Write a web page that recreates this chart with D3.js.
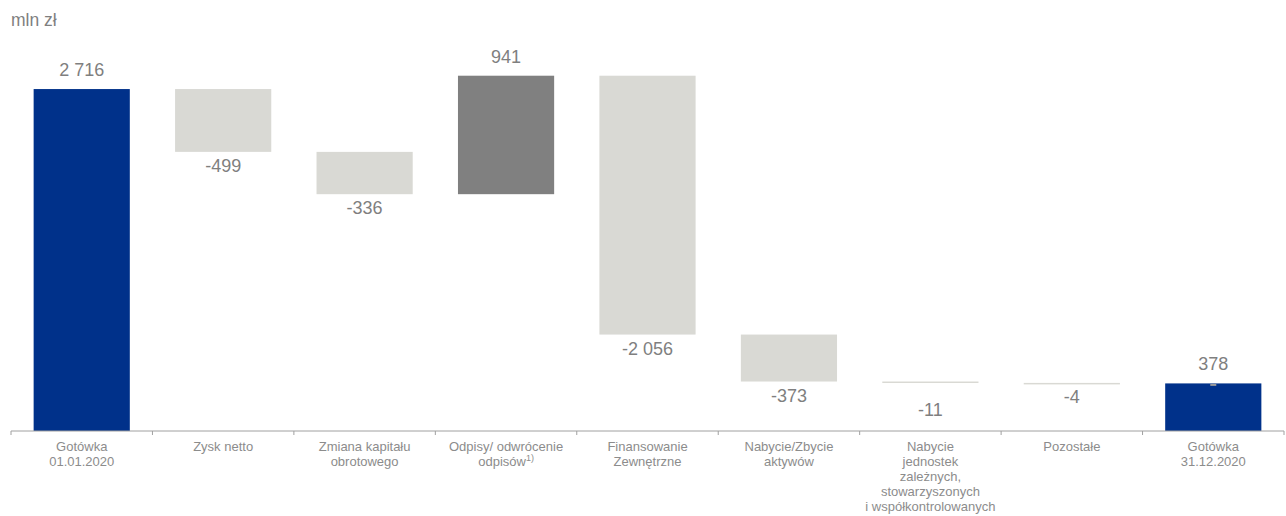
<!DOCTYPE html>
<html>
<head>
<meta charset="utf-8">
<script src="https://cdn.jsdelivr.net/npm/d3@7/dist/d3.min.js"></script>
<style>
  html, body { margin: 0; padding: 0; background: #fff; }
  svg { display: block; font-family: "Liberation Sans", Arial, sans-serif; }
</style>
</head>
<body>
<svg id="chart" width="1286" height="516"></svg>
<script>
// ---- data ----
const categories = [
  ["Gotówka", "01.01.2020"],
  ["Zysk netto"],
  ["Zmiana kapitału", "obrotowego"],
  ["Odpisy/ odwrócenie", "odpisów"],
  ["Finansowanie", "Zewnętrzne"],
  ["Nabycie/Zbycie", "aktywów"],
  ["Nabycie", "jednostek", "zależnych,", "stowarzyszonych", "i współkontrolowanych"],
  ["Pozostałe"],
  ["Gotówka", "31.12.2020"]
];
const values = [2716, -499, -336, 941, -2056, -373, -11, -4, 378];
const kinds = ["total", "delta", "delta", "delta", "delta", "delta", "delta", "delta", "total"];
const valueLabels = ["2 716", "-499", "-336", "941", "-2 056", "-373", "-11", "-4", "378"];
const unitLabel = "mln zł";

// ---- layout ----
const svg = d3.select("#chart");
const axisY = 431;
const x = d3.scaleBand()
  .domain(d3.range(categories.length))
  .range([11, 1284])
  .paddingInner(0.32)
  .paddingOuter(0.16);
const y = d3.scaleLinear().domain([0, 3000]).range([axisY, axisY - 377.7]);

// compute waterfall
let running = 0;
const bars = values.map((v, i) => {
  let y0, y1;
  if (kinds[i] === "total") { y0 = 0; y1 = v; running = v; }
  else { y0 = running; y1 = running + v; running = y1; }
  return { i, v, y0, y1, kind: kinds[i] };
});

const colorFor = b => b.kind === "total" ? "#00318A" : (b.v > 0 ? "#808080" : "#D9D9D4");

svg.append("text")
  .attr("x", 11).attr("y", 26)
  .attr("font-size", 17.5).attr("fill", "#7f7f7f")
  .text(unitLabel);

svg.selectAll("rect.bar").data(bars).enter().append("rect")
  .attr("class", "bar")
  .attr("x", d => x(d.i))
  .attr("width", x.bandwidth())
  .attr("y", d => y(Math.max(d.y0, d.y1)))
  .attr("height", d => Math.max(1.5, Math.abs(y(d.y0) - y(d.y1))))
  .attr("fill", colorFor);

// small grey mark at top of the final bar
const last = bars[bars.length - 1];
svg.append("rect")
  .attr("x", x(last.i) + x.bandwidth() / 2 - 3)
  .attr("y", y(last.y1) + 0.5)
  .attr("width", 6).attr("height", 2)
  .attr("fill", "#9a9a9a");

// value labels
const extraOffset = { 6: 13 };
svg.selectAll("text.val").data(bars).enter().append("text")
  .attr("class", "val")
  .attr("x", d => x(d.i) + x.bandwidth() / 2)
  .attr("y", d => d.v >= 0
      ? y(Math.max(d.y0, d.y1)) - 13
      : y(Math.min(d.y0, d.y1)) + 20 + (extraOffset[d.i] || 0))
  .attr("text-anchor", "middle")
  .attr("font-size", 18)
  .attr("fill", "#7f7f7f")
  .text((d, i) => valueLabels[i]);

// axis line and ticks at category boundaries
const axisG = svg.append("g");
axisG.append("line")
  .attr("x1", x.range()[0]).attr("x2", x.range()[1])
  .attr("y1", axisY).attr("y2", axisY)
  .attr("stroke", "#a0a0a0").attr("stroke-width", 1);
const step = x.step();
const bounds = d3.range(categories.length + 1).map(k => x.range()[0] + k * step);
axisG.selectAll("line.tick").data(bounds).enter().append("line")
  .attr("class", "tick")
  .attr("x1", d => d).attr("x2", d => d)
  .attr("y1", axisY).attr("y2", axisY + 4)
  .attr("stroke", "#a0a0a0").attr("stroke-width", 1);

// category labels
const catG = svg.selectAll("text.cat").data(categories).enter().append("text")
  .attr("class", "cat")
  .attr("text-anchor", "middle")
  .attr("font-size", 13)
  .attr("fill", "#8c8c8c");
catG.each(function(lines, i) {
  const t = d3.select(this);
  const cx = x(i) + x.bandwidth() / 2;
  lines.forEach((ln, k) => {
    t.append("tspan").attr("x", cx).attr("y", 451 + k * 15).text(ln);
  });
  if (i === 3) {
    t.append("tspan").attr("dy", -5).attr("font-size", 9).text("1)");
  }
});
</script>
</body>
</html>
